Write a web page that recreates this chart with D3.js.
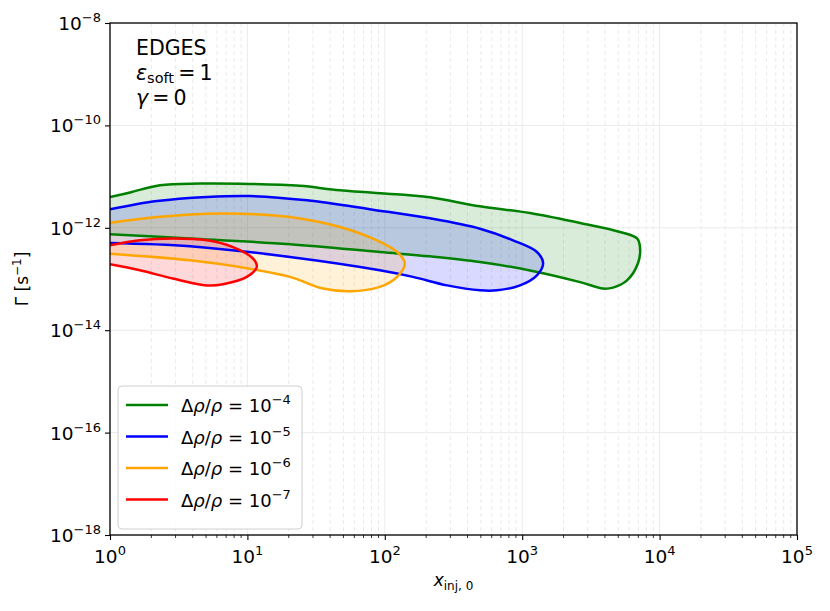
<!DOCTYPE html>
<html>
<head>
<meta charset="utf-8">
<script src="https://cdn.jsdelivr.net/npm/d3@7"></script>
<style>
  body { margin: 0; background: #fff; }
  svg text { font-family: "DejaVu Sans", sans-serif; fill: #000; }
</style>
</head>
<body>
<div id="chart"></div>
<script>
const width = 830;
const height = 611;
const margin = { top: 23, right: 33, bottom: 76, left: 110 };

// contour outlines, [x_inj0, Gamma], traced clockwise from the left edge
const green = [[1, 3.98e-12], [1.40, 4.9e-12], [2.31, 6.8e-12], [4.52, 7.3e-12], [10.4, 7.2e-12], [24.1, 6.6e-12],
  [47.2, 5.4e-12], [129, 4.45e-12], [213, 3.96e-12], [493, 2.63e-12], [1140, 1.95e-12], [2640, 1.24e-12],
  [5150, 8.3e-13], [6850, 6.2e-13], [7200, 4.2e-13], [6960, 2.03e-13], [5790, 9.4e-14], [4580, 6.8e-14],
  [3870, 6.5e-14], [2640, 8.7e-14], [1140, 1.47e-13], [493, 2.15e-13], [213, 2.77e-13], [92, 3.36e-13],
  [20.4, 4.77e-13], [3.82, 6.2e-13], [1, 7.5e-13]];
const blue = [[1, 2.3e-12], [2.2, 3.33e-12], [5.08, 4.0e-12], [10.4, 4.18e-12], [27.2, 3.44e-12], [82, 2.26e-12],
  [213, 1.53e-12], [493, 9.6e-13], [857, 5.7e-13], [1280, 3.37e-13], [1420, 2.0e-13], [1280, 1.18e-13],
  [964, 7.5e-14], [656, 6.0e-14], [493, 6.0e-14], [284, 7.5e-14], [160, 1.1e-13], [92, 1.48e-13],
  [20.4, 2.69e-13], [3.82, 4.37e-13], [1, 5.05e-13]];
const orange = [[1, 1.26e-12], [2.2, 1.63e-12], [5.08, 1.89e-12], [8.8, 1.89e-12], [20.4, 1.63e-12], [47.2, 1.04e-12],
  [87.7, 5.7e-13], [123, 3.37e-13], [140, 2.0e-13], [123, 1.1e-13], [92, 7.0e-14], [55.8, 5.75e-14],
  [35.5, 6.5e-14], [20.4, 1.1e-13], [8.8, 1.71e-13], [3.82, 2.32e-13], [1, 3.13e-13]];
const red = [[1, 4.55e-13], [1.65, 5.7e-13], [2.87, 6.15e-13], [5.08, 5.7e-13], [7.86, 4.2e-13], [11.0, 2.5e-13],
  [11.7, 1.71e-13], [9.9, 1.1e-13], [6.64, 7.9e-14], [5.08, 7.5e-14], [2.87, 1.02e-13], [1.65, 1.48e-13],
  [1, 1.94e-13]];

const seriesExp = [-4, -5, -6, -7];
const seriesColors = ["green", "blue", "orange", "red"];
const contours = [green, blue, orange, red];

const xTickExp = [0, 1, 2, 3, 4, 5];
const yTickExp = [-18, -16, -14, -12, -10, -8];

const svg = d3.select("#chart").append("svg")
    .attr("width", width)
    .attr("height", height);

const iw = width - margin.left - margin.right;
const ih = height - margin.top - margin.bottom;

const x = d3.scaleLog().domain([1, 1e5]).range([0, iw]);
const y = d3.scaleLog().domain([1e-18, 1e-8]).range([ih, 0]);

const g = svg.append("g").attr("transform", "translate(" + margin.left + "," + margin.top + ")");

g.append("clipPath").attr("id", "clip")
    .append("rect").attr("width", iw).attr("height", ih);

// grid
const minorX = [];
for (let e = 0; e < 5; e++) for (let k = 2; k <= 9; k++) minorX.push(k * Math.pow(10, e));

g.append("g").selectAll("line").data(minorX).join("line")
    .attr("x1", d => x(d)).attr("x2", d => x(d))
    .attr("y1", 0).attr("y2", ih)
    .attr("stroke", "#e4e4e4").attr("stroke-width", 0.8)
    .attr("stroke-dasharray", "4,3");

g.append("g").selectAll("line").data(xTickExp).join("line")
    .attr("x1", d => x(Math.pow(10, d))).attr("x2", d => x(Math.pow(10, d)))
    .attr("y1", 0).attr("y2", ih)
    .attr("stroke", "#ebebeb").attr("stroke-width", 1);

g.append("g").selectAll("line").data(yTickExp).join("line")
    .attr("x1", 0).attr("x2", iw)
    .attr("y1", d => y(Math.pow(10, d))).attr("y2", d => y(Math.pow(10, d)))
    .attr("stroke", "#ebebeb").attr("stroke-width", 1);

// contours
const line = d3.line()
    .x(d => x(d[0]))
    .y(d => y(d[1]))
    .curve(d3.curveCatmullRom.alpha(0.5));

const cg = g.append("g").attr("clip-path", "url(#clip)");
contours.forEach((c, i) => {
  cg.append("path")
      .attr("d", line(c) + "Z")
      .attr("fill", seriesColors[i])
      .attr("fill-opacity", 0.15)
      .attr("stroke", "none");
});
contours.forEach((c, i) => {
  cg.append("path")
      .attr("d", line(c))
      .attr("fill", "none")
      .attr("stroke", seriesColors[i])
      .attr("stroke-width", 2.5);
});

// axes
const xAxis = d3.axisBottom(x)
    .tickValues(xTickExp.map(e => Math.pow(10, e)))
    .tickSize(5).tickFormat("");
g.append("g").attr("transform", "translate(0," + ih + ")").call(xAxis);

g.append("g").attr("transform", "translate(0," + ih + ")")
  .selectAll("line").data(minorX).join("line")
    .attr("x1", d => x(d)).attr("x2", d => x(d))
    .attr("y1", 0).attr("y2", 3)
    .attr("stroke", "#000").attr("stroke-width", 0.8);

const yAxis = d3.axisLeft(y)
    .tickValues(yTickExp.map(e => Math.pow(10, e)))
    .tickSize(5).tickFormat("");
g.append("g").call(yAxis);

g.selectAll(".domain").remove();
g.selectAll(".tick line").attr("stroke", "#000").attr("stroke-width", 1.1);

g.append("rect").attr("width", iw).attr("height", ih)
    .attr("fill", "none").attr("stroke", "#000").attr("stroke-width", 1.3);

// tick labels as 10^n
xTickExp.forEach(e => {
  const t = g.append("text")
      .attr("x", x(Math.pow(10, e)))
      .attr("y", ih + 28)
      .attr("text-anchor", "middle")
      .style("font-size", "18.5px");
  t.append("tspan").text("10");
  t.append("tspan").attr("dy", -8).style("font-size", "13px").text(e);
});

yTickExp.forEach(e => {
  const t = g.append("text")
      .attr("x", -9)
      .attr("y", y(Math.pow(10, e)) + 7)
      .attr("text-anchor", "end")
      .style("font-size", "18.5px");
  t.append("tspan").text("10");
  t.append("tspan").attr("dy", -8).style("font-size", "13px").text("\u2212" + Math.abs(e));
});

// axis titles
const xl = svg.append("text")
    .attr("x", margin.left + iw / 2)
    .attr("y", 586)
    .attr("text-anchor", "middle")
    .style("font-size", "17px");
xl.append("tspan").style("font-style", "italic").text("x");
xl.append("tspan").attr("dy", 4).style("font-size", "12px").text("inj, 0");

const yl = svg.append("text")
    .attr("transform", "translate(28," + (margin.top + ih / 2) + ") rotate(-90)")
    .attr("text-anchor", "middle")
    .style("font-size", "17px");
yl.append("tspan").text("\u0393 [s");
yl.append("tspan").attr("dy", -7).style("font-size", "12px").text("\u22121");
yl.append("tspan").attr("dy", 7).text("]");

// annotation
const ann = g.append("g").attr("transform", "translate(26,0)");
ann.append("text").attr("y", 32).style("font-size", "20.5px").text("EDGES");
const a2 = ann.append("text").attr("y", 57).style("font-size", "20.5px");
a2.append("tspan").style("font-style", "italic").text("\u03b5");
a2.append("tspan").attr("dy", 3).style("font-size", "14.5px").text("soft");
a2.append("tspan").attr("dy", -3).text("\u2009=\u20091");
const a3 = ann.append("text").attr("y", 82).style("font-size", "20.5px");
a3.append("tspan").style("font-style", "italic").text("\u03b3");
a3.append("tspan").text("\u2009=\u20090");

// legend
const lg = g.append("g").attr("transform", "translate(8,363)");
lg.append("rect")
    .attr("width", 184).attr("height", 143).attr("rx", 4)
    .attr("fill", "#fff").attr("fill-opacity", 0.85)
    .attr("stroke", "#d0d0d0").attr("stroke-width", 1);

seriesExp.forEach((e, i) => {
  const yy = 19 + i * 31.5;
  lg.append("line")
      .attr("x1", 8).attr("x2", 50).attr("y1", yy).attr("y2", yy)
      .attr("stroke", seriesColors[i]).attr("stroke-width", 2.5);
  const t = lg.append("text").attr("x", 63).attr("y", yy + 7).style("font-size", "18px");
  t.append("tspan").text("\u0394");
  t.append("tspan").style("font-style", "italic").text("\u03c1");
  t.append("tspan").text("/");
  t.append("tspan").style("font-style", "italic").text("\u03c1");
  t.append("tspan").text(" = 10");
  t.append("tspan").attr("dy", -8).style("font-size", "13px").text("\u2212" + Math.abs(e));
});
</script>
</body>
</html>
